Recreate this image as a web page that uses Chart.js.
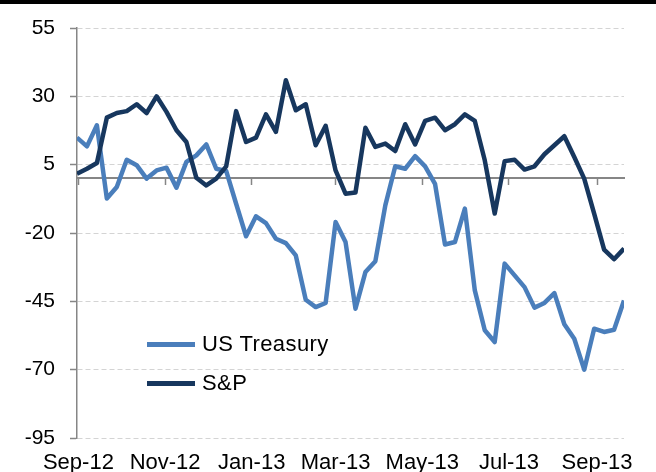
<!DOCTYPE html>
<html>
<head>
<meta charset="utf-8">
<script src="https://cdn.jsdelivr.net/npm/chart.js@4.4.0/dist/chart.umd.min.js"></script>
<style>
  body { margin: 0; background: #fff; }
  #wrap { position: relative; width: 656px; height: 472px; overflow: hidden; font-family: 'Liberation Sans', Arial, sans-serif; }
  #chart { position: absolute; left: 0; top: 0; }
  #topline { position: absolute; left: 0; top: 0; width: 656px; height: 4px; background: #000; }
  .leg { position: absolute; left: 147px; height: 26px; display: flex; align-items: center; font-size: 22px; color: #000; letter-spacing: 0.4px; }
  .leg .swatch { display: inline-block; width: 48px; height: 5px; margin-right: 7px; }
</style>
</head>
<body>
<div id="wrap">
  <canvas id="chart" width="656" height="472"></canvas>
  <div id="topline"></div>
</div>
<script>
// weekly observations (Fridays)
const weeks = [
  '2012-08-31', '2012-09-07', '2012-09-14', '2012-09-21', '2012-09-28', '2012-10-05', '2012-10-12',
  '2012-10-19', '2012-10-26', '2012-11-02', '2012-11-09', '2012-11-16', '2012-11-23', '2012-11-30',
  '2012-12-07', '2012-12-14', '2012-12-21', '2012-12-28', '2013-01-04', '2013-01-11', '2013-01-18',
  '2013-01-25', '2013-02-01', '2013-02-08', '2013-02-15', '2013-02-22', '2013-03-01', '2013-03-08',
  '2013-03-15', '2013-03-22', '2013-03-29', '2013-04-05', '2013-04-12', '2013-04-19', '2013-04-26',
  '2013-05-03', '2013-05-10', '2013-05-17', '2013-05-24', '2013-05-31', '2013-06-07', '2013-06-14',
  '2013-06-21', '2013-06-28', '2013-07-05', '2013-07-12', '2013-07-19', '2013-07-26', '2013-08-02',
  '2013-08-09', '2013-08-16', '2013-08-23', '2013-08-30', '2013-09-06', '2013-09-13', '2013-09-20'
]

const treasury = [
  14.9, 11.7, 19.4, -7.4, -3.2, 6.8, 4.8, -0.1, 2.9, 3.9, -3.4, 6.0, 8.4, 12.4,
  3.5, 2.7, -9.3, -21.2, -13.9, -16.4, -22.1, -23.7, -28.2, -44.4, -47.1, -45.6, -16.0, -23.3,
  -47.7, -34.3, -30.3, -9.9, 4.4, 3.5, 8.1, 4.4, -2.0, -24.2, -23.3, -11.1, -41.0, -55.6,
  -59.9, -31.2, -35.5, -39.8, -47.3, -45.6, -42.0, -53.4, -58.7, -70.0, -55.0, -56.2, -55.4, -44.7
]

const sp = [
  1.7, 3.5, 5.6, 22.2, 23.9, 24.6, 27.1, 23.9, 30.0, 24.3, 17.6, 13.3, 0.2, -2.6,
  -0.1, 4.4, 24.6, 13.3, 14.9, 23.4, 17.0, 35.9, 24.9, 27.1, 12.1, 19.2, 2.9, -5.6,
  -5.2, 18.5, 11.5, 12.7, 10.0, 19.8, 12.4, 21.0, 22.2, 17.6, 19.8, 23.4, 21.0,
  6.6, -12.9, 6.3, 6.8, 3.2, 4.4, 8.8, 12.1, 15.4, 7.8, -0.1, -12.9, -26.1, -29.6, -25.7
]

const seriesNames = ['US Treasury', 'S&P']
const seriesColors = ['#4a7ebb', '#17375e']

const tickDates = ['2012-09-01', '2012-11-01', '2013-01-01', '2013-03-01', '2013-05-01', '2013-07-01', '2013-09-01']
const tickLabels = ['Sep-12', 'Nov-12', 'Jan-13', 'Mar-13', 'May-13', 'Jul-13', 'Sep-13']

const yMin = -95
const yMax = 55
const yStep = 25

const dayOf = d => (Date.parse(d) - Date.parse(weeks[0])) / 864e5
const days = weeks.map(dayOf)
const tickDays = tickDates.map(dayOf)
const setMonthTicks = scale => { scale.ticks = tickDays.map(v => ({value: v})) }

const fontFamily = "'Liberation Sans', Arial, sans-serif"
const axisGrey = '#868686'

new Chart(document.getElementById('chart'), {
  type: 'line',
  data: {
    datasets: [
      {
        label: seriesNames[0],
        data: treasury.map((v, i) => ({x: days[i], y: v})),
        borderColor: seriesColors[0],
        borderWidth: 4.5,
        pointRadius: 0,
        borderJoinStyle: 'round',
        order: 2,
      },
      {
        label: seriesNames[1],
        data: sp.map((v, i) => ({x: days[i], y: v})),
        borderColor: seriesColors[1],
        borderWidth: 4.5,
        pointRadius: 0,
        borderJoinStyle: 'round',
        order: 1,
      }
    ]
  },
  options: {
    responsive: false,
    animation: false,
    layout: {padding: {top: 28, right: 32, bottom: 0, left: 0}},
    plugins: {
      legend: {display: false},
      tooltip: {enabled: false},
    },
    scales: {
      x: {
        type: 'linear',
        min: 0,
        max: days[days.length - 1],
        afterBuildTicks: setMonthTicks,
        afterFit: scale => { scale.height = 34 },
        grid: {display: false, drawTicks: false},
        border: {display: false},
        ticks: {
          callback: (v, i) => tickLabels[i],
          autoSkip: false,
          maxRotation: 0,
          padding: 12,
          color: '#000',
          font: {family: fontFamily, size: 22},
        }
      },
      x2: {
        type: 'linear',
        position: {y: 0},
        min: 0,
        max: days[days.length - 1],
        afterBuildTicks: setMonthTicks,
        ticks: {display: false},
        grid: {drawOnChartArea: false, drawTicks: true, tickLength: 6, tickColor: axisGrey, tickWidth: 1.5},
        border: {display: true, color: axisGrey, width: 2},
      },
      y: {
        min: yMin,
        max: yMax,
        afterFit: scale => { scale.width = 77 },
        ticks: {
          stepSize: yStep,
          padding: 15,
          color: '#000',
          font: {family: fontFamily, size: 21},
        },
        grid: {color: '#d4d4d4', lineWidth: 1, tickLength: 7, tickColor: axisGrey, tickWidth: 1.5},
        border: {color: axisGrey, width: 1.5, dash: [5, 3]},
      }
    }
  }
})

// legend drawn as html, inside the plot area
const wrap = document.getElementById('wrap')
const legendTops = [331, 370]
seriesNames.map((name, i) => {
  let item = document.createElement('div')
  item.className = 'leg'
  item.style.top = legendTops[i] + 'px'
  let swatch = document.createElement('span')
  swatch.className = 'swatch'
  swatch.style.background = seriesColors[i]
  item.appendChild(swatch)
  let txt = document.createElement('span')
  txt.innerText = name
  item.appendChild(txt)
  wrap.appendChild(item)
})
</script>
</body>
</html>
